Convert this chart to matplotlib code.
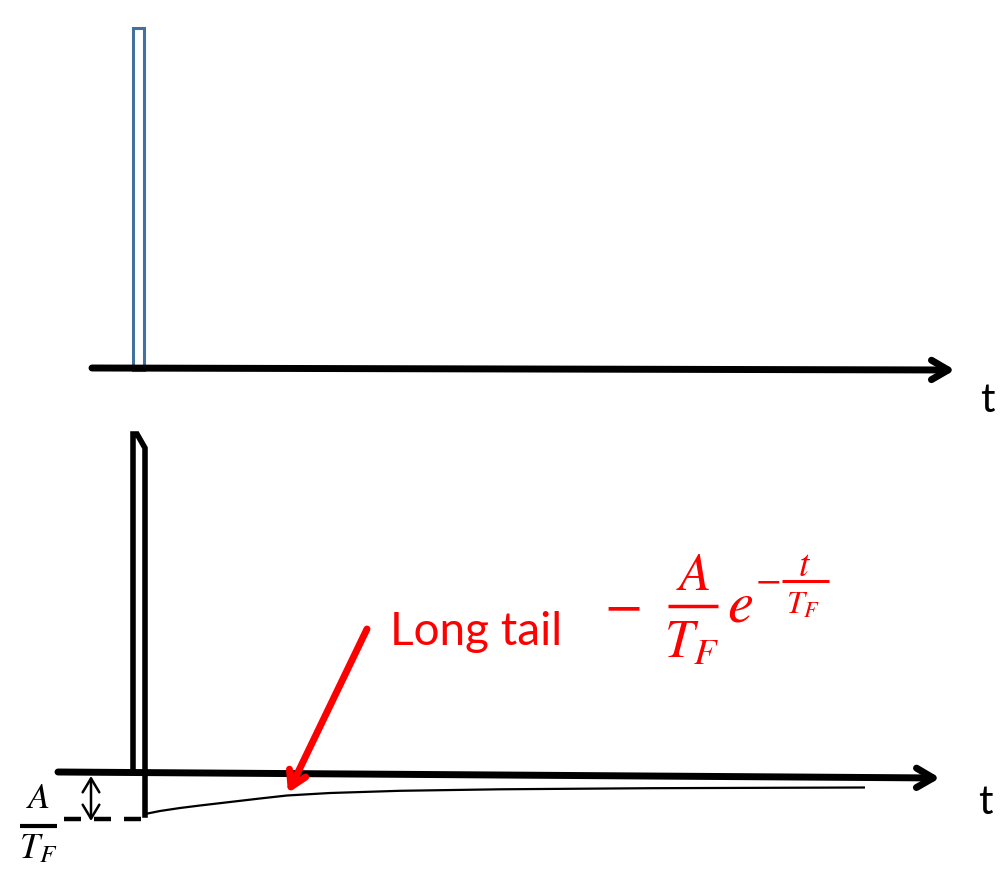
import matplotlib
matplotlib.use("Agg")
import matplotlib.pyplot as plt
from matplotlib.patches import Rectangle

plt.rcParams['mathtext.fontset'] = 'stix'

# ---- data (pixel coordinates of the schematic) ----
top_axis_x = [92, 955]
top_axis_y = [368, 370]
pulse_left, pulse_right = 133, 144
pulse_top, pulse_bottom = 28, 370

bot_axis_x = [58, 940]
bot_axis_y = [772, 778]
spike_x = [133, 133, 137, 145, 145]
spike_y = [772, 434, 434, 448, 815]

tail_x = [145, 160, 180, 200, 230, 260, 287, 330, 400, 500, 650, 865]
tail_y = [814, 811, 808, 805.5, 802, 798.5, 795.5, 793, 790.8, 789.3, 788.2, 787.5]

dash_x = [64, 141]
dash_y = 819
gap_arrow_x = 91
gap_arrow_y = [776, 821]

pointer_start = (367, 629)
pointer_end = (288, 793)

RED = '#FF0000'

fig = plt.figure(figsize=(10, 8.84), dpi=100)
ax = fig.add_axes([0, 0, 1, 1])
ax.set_xlim(0, 1000)
ax.set_ylim(884, 0)
ax.axis('off')

def px(v):
    return v * 72 / 100.0

# top axis
ax.annotate('', xy=(top_axis_x[1], top_axis_y[1]), xytext=(top_axis_x[0], top_axis_y[0]),
            arrowprops=dict(arrowstyle='->,head_length=1.2,head_width=0.7', lw=5,
                            color='black', shrinkA=0, shrinkB=0, joinstyle='round',
                            capstyle='round'))
ax.text(987, 400, 't', fontsize=29, family='Lato', ha='center', va='center')

# pulse
ax.add_patch(Rectangle((pulse_left, pulse_top), pulse_right - pulse_left,
                       pulse_bottom - pulse_top, fill=False, edgecolor='#41719C', lw=2.2))

# bottom axis
ax.annotate('', xy=(bot_axis_x[1], bot_axis_y[1]), xytext=(bot_axis_x[0], bot_axis_y[0]),
            arrowprops=dict(arrowstyle='->,head_length=1.2,head_width=0.7', lw=5,
                            color='black', shrinkA=0, shrinkB=0, joinstyle='round',
                            capstyle='round'))
ax.text(985, 802, 't', fontsize=29, family='Lato', ha='center', va='center')

# spike
ax.plot(spike_x, spike_y, color='black', lw=4, solid_joinstyle='miter')

# tail
ax.plot(tail_x, tail_y, color='black', lw=1.6, solid_capstyle='butt')

# dashed baseline and gap arrow
ax.plot(dash_x, [dash_y, dash_y], color='black', lw=3.2,
        dashes=(px(17) / 3.2, px(13) / 3.2), solid_capstyle='butt', dash_capstyle='butt')
ax.annotate('', xy=(gap_arrow_x, gap_arrow_y[0]), xytext=(gap_arrow_x, gap_arrow_y[1]),
            arrowprops=dict(arrowstyle='<->,head_length=1.0,head_width=0.6', lw=1.8,
                            color='black', shrinkA=0, shrinkB=0))
# A / T_F label (bottom-left)
ax.text(38, 808, r'$A$', fontsize=26, ha='center', va='baseline')
ax.plot([20, 57], [826, 826], color='black', lw=3, solid_capstyle='butt')
ax.text(38, 858, r'$T_F$', fontsize=26, ha='center', va='baseline')

# pointer arrow
ax.annotate('', xy=pointer_end, xytext=pointer_start,
            arrowprops=dict(arrowstyle='->,head_length=1.1,head_width=0.65', lw=5,
                            color=RED, shrinkA=0, shrinkB=0))
ax.text(390, 632, 'Long tail', fontsize=33, family='Lato', color=RED,
        ha='left', va='center')

# formula  - A/T_F e^{-t/T_F}
ax.text(622, 606, r'$-$', fontsize=40, color=RED, ha='center', va='center')
ax.text(693, 590, r'$A$', fontsize=38, color=RED, ha='center', va='baseline')
ax.plot([668, 718], [606, 606], color=RED, lw=2.5, solid_capstyle='butt')
ax.text(692, 658, r'$T_F$', fontsize=38, color=RED, ha='center', va='baseline')
ax.text(740, 622, r'$e$', fontsize=42, color=RED, ha='center', va='baseline')
ax.text(768, 580, r'$-$', fontsize=27, color=RED, ha='center', va='center')
ax.text(805, 576, r'$t$', fontsize=27, color=RED, ha='center', va='baseline')
ax.plot([782, 829], [581, 581], color=RED, lw=2.2, solid_capstyle='butt')
ax.text(803, 614, r'$T_F$', fontsize=23, color=RED, ha='center', va='baseline')

fig.savefig('out.png', dpi=100)
